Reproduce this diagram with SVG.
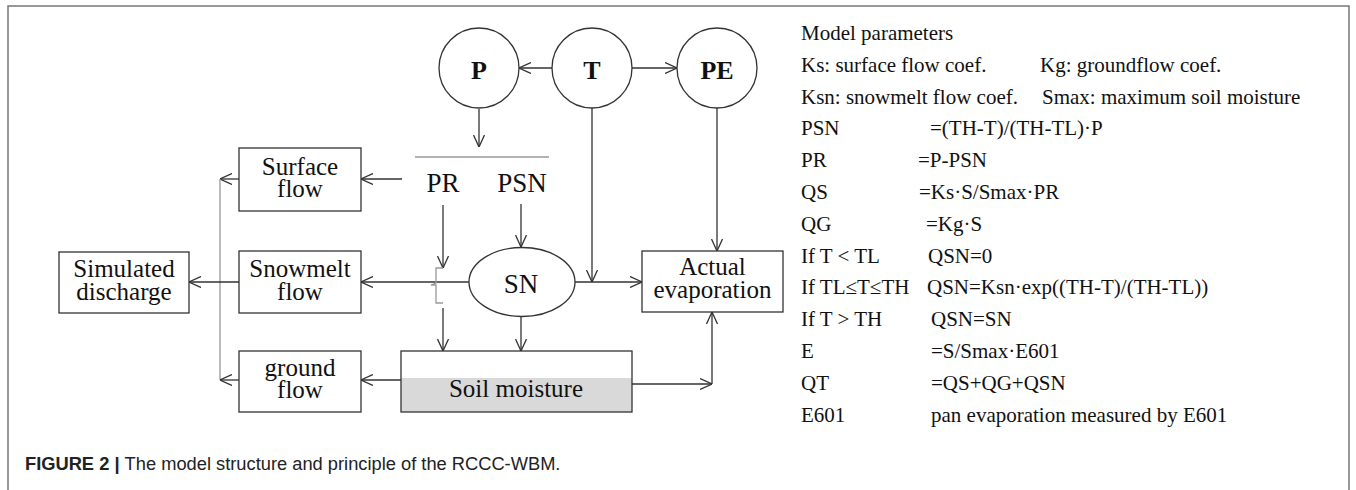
<svg xmlns="http://www.w3.org/2000/svg" width="1356" height="490" viewBox="0 0 1356 490">
<style>
.box{fill:#fff;stroke:#333;stroke-width:1.3}
.t{font-family:'Liberation Serif','Times New Roman',Times,'DejaVu Serif',serif;fill:#111}
.bx{font-size:25px;text-anchor:middle}
.big{font-size:27px;text-anchor:middle}
.cir{font-size:26px;font-weight:bold;text-anchor:middle}
.par{font-size:21px}
.ln{fill:none;stroke:#333;stroke-width:1.3}
.gl{fill:none;stroke:#999;stroke-width:1.3}
.cap{font-family:'Liberation Sans',Arial,sans-serif;font-size:18.3px;fill:#222}
</style>
<defs>
<marker id="ar" viewBox="0 0 12 12" refX="12" refY="6" markerWidth="12" markerHeight="12" markerUnits="userSpaceOnUse" orient="auto">
<path d="M0,0.5 L12,6 L0,11.5" fill="none" stroke="#333" stroke-width="1.3"/>
</marker>
</defs>
<rect width="1356" height="490" fill="#fff"/>
<path d="M8,490 V6 H1349 V490" fill="none" stroke="#777" stroke-width="1.5"/>

<g id="connectors">
<line class="ln" x1="552" y1="68" x2="519" y2="68" marker-end="url(#ar)"/>
<line class="ln" x1="632" y1="68" x2="677" y2="68" marker-end="url(#ar)"/>
<line class="ln" x1="479" y1="109" x2="479" y2="147" marker-end="url(#ar)"/>
<line class="gl" x1="415" y1="157" x2="549" y2="157"/>
<line class="ln" x1="402" y1="179" x2="361" y2="179" marker-end="url(#ar)"/>
<line class="ln" x1="239" y1="179" x2="220" y2="179" marker-end="url(#ar)"/>
<line class="gl" x1="220" y1="179" x2="220" y2="380"/>
<line class="ln" x1="239" y1="380" x2="220" y2="380" marker-end="url(#ar)"/>
<line class="ln" x1="239" y1="282" x2="189" y2="282" marker-end="url(#ar)"/>
<line class="ln" x1="469" y1="282" x2="361" y2="282" marker-end="url(#ar)"/>
<line class="ln" x1="401" y1="380" x2="361" y2="380" marker-end="url(#ar)"/>
<line class="ln" x1="443" y1="205" x2="443" y2="268" marker-end="url(#ar)"/>
<path class="gl" d="M443,268 H436 V283 L431,285 H436 V303 H443"/>
<line class="ln" x1="443" y1="308" x2="443" y2="351" marker-end="url(#ar)"/>
<line class="ln" x1="521" y1="204" x2="521" y2="247" marker-end="url(#ar)"/>
<line class="ln" x1="521" y1="316" x2="521" y2="351" marker-end="url(#ar)"/>
<line class="ln" x1="592" y1="108" x2="592" y2="282" marker-end="url(#ar)"/>
<line class="ln" x1="575" y1="282" x2="642" y2="282" marker-end="url(#ar)"/>
<line class="ln" x1="717" y1="108" x2="717" y2="251" marker-end="url(#ar)"/>
<line class="ln" x1="632" y1="384" x2="712" y2="384" marker-end="url(#ar)"/>
<line class="ln" x1="712" y1="384" x2="712" y2="312" marker-end="url(#ar)"/>
</g>

<g id="node-P"><circle class="box" cx="479" cy="68" r="40"/><text class="t cir" x="479" y="79">P</text></g>
<g id="node-T"><circle class="box" cx="592" cy="68" r="40"/><text class="t cir" x="592" y="79">T</text></g>
<g id="node-PE"><circle class="box" cx="717" cy="68" r="40"/><text class="t cir" x="717" y="79">PE</text></g>
<g id="node-PR"><text class="t big" x="443" y="192">PR</text></g>
<g id="node-PSN"><text class="t big" x="522" y="192">PSN</text></g>
<g id="node-SN"><ellipse class="box" cx="522" cy="282" rx="53" ry="34.5"/><text class="t big" x="521" y="293">SN</text></g>
<g id="node-surface"><rect class="box" x="239" y="148" width="122" height="63"/><text class="t bx" x="300" y="175">Surface</text><text class="t bx" x="300" y="197">flow</text></g>
<g id="node-snowmelt"><rect class="box" x="239" y="251" width="122" height="62"/><text class="t bx" x="300" y="277">Snowmelt</text><text class="t bx" x="300" y="300">flow</text></g>
<g id="node-ground"><rect class="box" x="239" y="351" width="122" height="61"/><text class="t bx" x="300" y="376">ground</text><text class="t bx" x="300" y="398">flow</text></g>
<g id="node-discharge"><rect class="box" x="59" y="252" width="130" height="61"/><text class="t bx" x="124" y="277">Simulated</text><text class="t bx" x="124" y="300">discharge</text></g>
<g id="node-evap"><rect class="box" x="642" y="251" width="141" height="61"/><text class="t bx" x="712.5" y="275">Actual</text><text class="t bx" x="712.5" y="298">evaporation</text></g>
<g id="node-soil"><rect x="401" y="378" width="231" height="34" fill="#d9d9d9"/><rect x="401" y="351" width="231" height="61" fill="none" stroke="#333" stroke-width="1.3"/><text class="t bx" x="516" y="397">Soil moisture</text></g>

<g id="parameters" class="t par">
<text x="801" y="40">Model parameters</text>
<text x="801" y="72">Ks: surface flow coef.</text><text x="1040" y="72">Kg: groundflow coef.</text>
<text x="801" y="104">Ksn: snowmelt flow coef.</text><text x="1042" y="104">Smax: maximum soil moisture</text>
<text x="801" y="135">PSN</text><text x="930" y="135">=(TH-T)/(TH-TL)·P</text>
<text x="801" y="167">PR</text><text x="918" y="167">=P-PSN</text>
<text x="801" y="199">QS</text><text x="919" y="199">=Ks·S/Smax·PR</text>
<text x="801" y="231">QG</text><text x="926" y="231">=Kg·S</text>
<text x="801" y="263">If T &lt; TL</text><text x="928" y="263">QSN=0</text>
<text x="801" y="294">If TL≤T≤TH</text><text x="927" y="294">QSN=Ksn·exp((TH-T)/(TH-TL))</text>
<text x="801" y="326">If T &gt; TH</text><text x="931" y="326">QSN=SN</text>
<text x="801" y="358">E</text><text x="931" y="358">=S/Smax·E601</text>
<text x="801" y="390">QT</text><text x="931" y="390">=QS+QG+QSN</text>
<text x="801" y="422">E601</text><text x="931" y="422">pan evaporation measured by E601</text>
</g>

<text class="cap" x="25" y="470"><tspan font-weight="bold">FIGURE 2 | </tspan>The model structure and principle of the RCCC-WBM.</text>
</svg>
